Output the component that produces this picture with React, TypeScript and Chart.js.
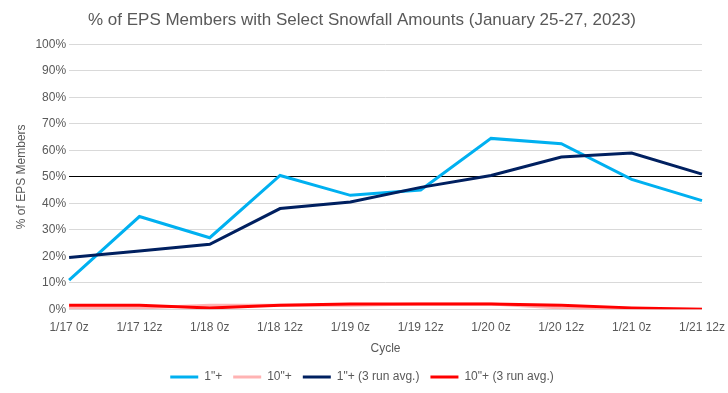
import React, { useEffect, useRef } from "react";
import { Chart, registerables } from "chart.js";

Chart.register(...registerables);

const categories = ["1/17 0z", "1/17 12z", "1/18 0z", "1/18 12z", "1/19 0z", "1/19 12z", "1/20 0z", "1/20 12z", "1/21 0z", "1/21 12z"];
const oneInch = [11, 35, 27, 50.5, 43, 45, 64.5, 62.5, 49, 41];
const tenInch = [0.5, 0.5, 1.5, 1.5, 1.5, 2, 2, 0.5, 0, 0];
const oneInchAvg = [19.5, 22, 24.5, 38, 40.5, 46, 50.5, 57.5, 59, 51];
const tenInchAvg = [1.5, 1.5, 0.5, 1.5, 2, 2, 2, 1.5, 0.5, 0];
const seriesNames = ['1"+', '10"+', '1"+ (3 run avg.)', '10"+ (3 run avg.)'];
const title = "% of EPS Members with Select Snowfall Amounts (January 25-27, 2023)";

export default function App() {
  const ref = useRef<HTMLCanvasElement>(null);
  useEffect(() => {
    document.body.style.margin = "0";
    const font = "Liberation Sans, Arial, sans-serif";
    const chart = new Chart(ref.current!, {
      type: "line",
      data: {
        labels: categories,
        datasets: [
          { label: seriesNames[0], data: oneInch, borderColor: "#00b0f0", backgroundColor: "#00b0f0", borderWidth: 3, pointRadius: 0, order: 3 },
          { label: seriesNames[1], data: tenInch, borderColor: "#ffb3b3", backgroundColor: "#ffb3b3", borderWidth: 3, pointRadius: 0, order: 2 },
          { label: seriesNames[2], data: oneInchAvg, borderColor: "#002060", backgroundColor: "#002060", borderWidth: 3, pointRadius: 0, order: 1 },
          { label: seriesNames[3], data: tenInchAvg, borderColor: "#ff0000", backgroundColor: "#ff0000", borderWidth: 3, pointRadius: 0, order: 0 },
        ],
      },
      options: {
        animation: false,
        responsive: false,
        layout: { padding: { left: 10, right: 14, top: 4, bottom: 0 } },
        plugins: {
          title: { display: true, text: title, color: "#595959", font: { family: font, size: 17, weight: "normal" }, padding: { top: 6, bottom: 14 } },
          legend: {
            position: "bottom",
            labels: {
              usePointStyle: true,
              pointStyle: "line",
              pointStyleWidth: 28,
              color: "#595959",
              font: { family: font, size: 12 },
              padding: 11,
              sort: (a: any, b: any) => a.datasetIndex - b.datasetIndex,
            },
          },
          tooltip: { enabled: false },
        },
        scales: {
          x: {
            title: { display: true, text: "Cycle", color: "#595959", font: { family: font, size: 12 } },
            ticks: { color: "#595959", font: { family: font, size: 12 }, maxRotation: 0 },
            grid: { display: false },
            border: { color: "#d9d9d9" },
          },
          y: {
            min: 0,
            max: 100,
            ticks: { stepSize: 10, color: "#595959", font: { family: font, size: 12 }, padding: 3, callback: (v: any) => v + "%" },
            title: { display: true, text: "% of EPS Members", color: "#595959", font: { family: font, size: 12 } },
            grid: {
              color: (ctx: any) => (ctx.tick && ctx.tick.value === 50 ? "#000000" : "#d9d9d9"),
              drawTicks: false,
            },
            border: { display: false },
          },
        },
      },
    });
    return () => chart.destroy();
  }, []);
  return <canvas ref={ref} width={728} height={393} />;
}
